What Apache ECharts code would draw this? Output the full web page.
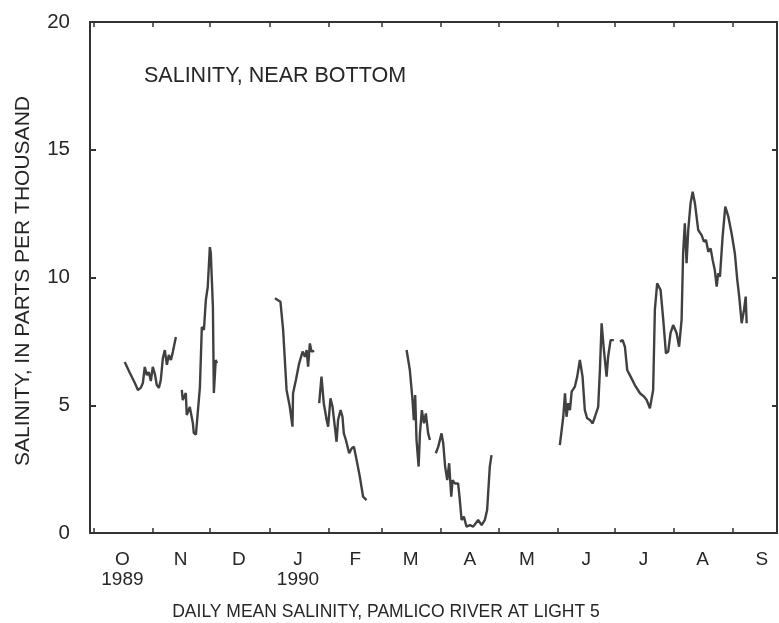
<!DOCTYPE html>
<html>
<head>
<meta charset="utf-8">
<script src="https://cdn.jsdelivr.net/npm/echarts@6/dist/echarts.min.js"></script>
<style>
html,body{margin:0;padding:0;background:#fff;}
#chart{width:779px;height:623px;}
</style>
</head>
<body>
<div id="chart"></div>
<script>
// Day of record counted from October 1, 1989 (day 0); null = no record
var dayOfRecord = [
  16.2,18.9,21.5,23.1,24.6,25.7,26.7,27.8,28.8,29.9,30.9,32.0,33.0,34.1,35.1,36.2,37.2,38.3,39.3,40.4,41.4,43.0,
  44.5,
  46.1,46.6,48.2,48.7,50.3,51.9,52.4,53.5,54.0,55.6,56.6,57.7,58.7,59.7,60.8,61.3,62.4,62.9,63.9,64.5,
  80,
  94.9,97.8,99.2,101.0,102.7,104.1,104.4,105.9,107.6,109.4,110.6,111.5,112.3,113.2,114.1,115.5,
  116.8,
  118.1,119.3,120.5,122.0,122.8,124.0,125.1,126.3,127.2,128.0,129.3,130.3,131.0,132.1,133.8,135.1,136.3,137.7,139.4,141.1,142.9,
  150,
  163.9,165.6,167.0,167.7,168.4,169.1,170.2,170.9,171.9,173.0,174.0,175.2,176.1,
  177.6,
  179.2,180.5,182.2,183.1,184.1,185.2,186.2,187.3,188.0,189.2,190.9,191.8,192.7,193.9,195.3,197.1,198.8,201.4,203.2,204.9,206.1,207.5,208.4,
  225,
  244.2,246.0,246.9,247.7,248.6,249.5,250.4,252.1,253.3,254.7,256.1,257.3,258.5,260.0,261.4,262.6,264.3,265.2,266.1,267.3,268.7,269.5,270.8,272.5,
  274.1,
  275.7,277.1,278.3,279.5,281.3,283.5,286.2,288.3,289.7,291.4,293.1,294.0,295.2,297.0,298.4,299.8,301.0,302.2,303.6,305.4,306.7,308.0,308.8,309.7,310.6,311.5,312.7,313.8,315.0,316.7,318.5,319.7,320.8,322.0,323.2,324.3,325.4,326.4,327.2,328.1,329.5,330.9,332.5,334.2,335.9,337.2,338.2,339.5,340.7,341.6,342.1
];
var salinity = [
  6.69,6.26,5.87,5.60,5.68,5.87,6.50,6.18,6.30,5.95,6.50,6.22,5.79,5.68,5.99,6.85,7.16,6.58,6.97,6.77,7.08,7.67,
  null,
  5.60,5.20,5.48,4.62,4.93,4.30,3.91,3.85,3.91,5.71,8.06,7.95,9.12,9.63,11.19,10.96,8.85,5.48,6.77,6.65,
  null,
  9.19,9.05,7.95,5.60,4.94,4.16,5.47,5.99,6.64,7.10,6.90,7.16,6.51,7.42,7.10,7.13,
  null,
  5.08,6.12,5.08,4.42,4.16,5.27,4.94,4.16,3.57,4.42,4.81,4.55,3.90,3.64,3.12,3.31,3.38,2.86,2.20,1.42,1.29,
  null,
  7.16,6.38,5.21,4.42,5.40,3.64,2.60,3.90,4.81,4.29,4.68,3.90,3.64,
  null,
  3.12,3.38,3.90,3.51,2.60,2.07,2.73,1.42,2.07,1.94,1.94,1.29,0.51,0.64,0.25,0.31,0.25,0.51,0.31,0.51,0.90,2.60,3.05,
  null,
  3.44,4.55,5.47,4.55,5.08,4.81,5.53,5.73,6.12,6.77,6.12,4.81,4.49,4.42,4.29,4.55,4.94,6.38,8.21,7.16,6.12,6.90,7.55,7.55,
  null,
  7.49,7.55,7.29,6.38,6.12,5.79,5.47,5.34,5.21,4.88,5.60,8.73,9.77,9.51,8.34,7.03,7.10,7.82,8.14,7.82,7.29,8.34,10.95,12.12,10.56,11.86,12.90,13.36,12.90,11.86,11.66,11.40,11.47,11.01,11.14,10.68,10.29,9.64,10.16,10.03,11.60,12.77,12.38,11.73,10.95,9.90,9.25,8.21,8.73,9.25,8.21
];
// Month boundaries (ticks) and mid-month label positions, in days from Oct 1, 1989
var monthStartDays = [0,31,61,92,123,151,182,212,243,273,304,335];
var monthLabelDays = [15,45.5,76,107,137,166,197,227,258,288,319,350];
var monthLabels = ['O','N','D','J','F','M','A','M','J','J','A','S'];
var yearLabels = ['1989','','','1990','','','','','','','',''];
var yTicks = [0,5,10,15,20];

var seriesData = dayOfRecord.map(function(d,i){ return [d, salinity[i]]; });

var FONT = "'Liberation Sans', Arial, Helvetica, sans-serif";
var INK = '#262626';
var chart = echarts.init(document.getElementById('chart'), null, {renderer:'canvas'});
var frameLine = {show:true, onZero:false, lineStyle:{color:'#333333', width:2}};
chart.setOption({
  animation:false,
  backgroundColor:'#ffffff',
  grid:{left:90, right:2, top:22, bottom:90, containLabel:false},
  xAxis:[{
    type:'value', position:'bottom', min:-2, max:358,
    axisLine:frameLine,
    splitLine:{show:false},
    axisTick:{show:true, inside:true, length:5, customValues:monthStartDays, lineStyle:{color:'#333333', width:1.5}},
    axisLabel:{
      show:true, customValues:monthLabelDays, margin:17,
      fontFamily:FONT, fontSize:19, lineHeight:20, color:INK,
      formatter:function(v){
        var i = monthLabelDays.indexOf(v);
        if (i < 0) return '';
        return yearLabels[i] ? monthLabels[i] + '\n' + yearLabels[i] : monthLabels[i];
      }
    }
  },{
    type:'value', position:'top', min:-2, max:358,
    axisLine:frameLine,
    splitLine:{show:false},
    axisTick:{show:true, inside:true, length:5, customValues:monthStartDays, lineStyle:{color:'#333333', width:1.5}},
    axisLabel:{show:false}
  }],
  yAxis:[{
    type:'value', position:'left', min:yTicks[0], max:yTicks[yTicks.length-1], interval:5,
    axisLine:frameLine,
    splitLine:{show:false},
    axisTick:{show:true, inside:true, length:6, lineStyle:{color:'#333333', width:2}},
    axisLabel:{show:true, margin:20, fontFamily:FONT, fontSize:20.5, color:INK}
  },{
    type:'value', position:'right', min:yTicks[0], max:yTicks[yTicks.length-1], interval:5,
    axisLine:frameLine,
    splitLine:{show:false},
    axisTick:{show:true, inside:true, length:5, lineStyle:{color:'#333333', width:2}},
    axisLabel:{show:false}
  }],
  series:[{
    type:'line', xAxisIndex:0, yAxisIndex:0,
    data:seriesData, showSymbol:false, connectNulls:false,
    lineStyle:{color:'#404040', width:2.4}
  }],
  graphic:[
    {type:'text', x:144, y:76, style:{text:'SALINITY, NEAR BOTTOM', font:'21.5px ' + FONT, fill:INK, align:'left', verticalAlign:'middle'}},
    {type:'text', x:23, y:281, rotation:Math.PI/2, style:{text:'SALINITY, IN PARTS PER THOUSAND', font:'21px ' + FONT, fill:INK, align:'center', verticalAlign:'middle'}},
    {type:'text', x:386, y:612, style:{text:'DAILY MEAN SALINITY, PAMLICO RIVER AT LIGHT 5', font:'17.5px ' + FONT, fill:INK, align:'center', verticalAlign:'middle'}}
  ]
});
</script>
</body>
</html>
